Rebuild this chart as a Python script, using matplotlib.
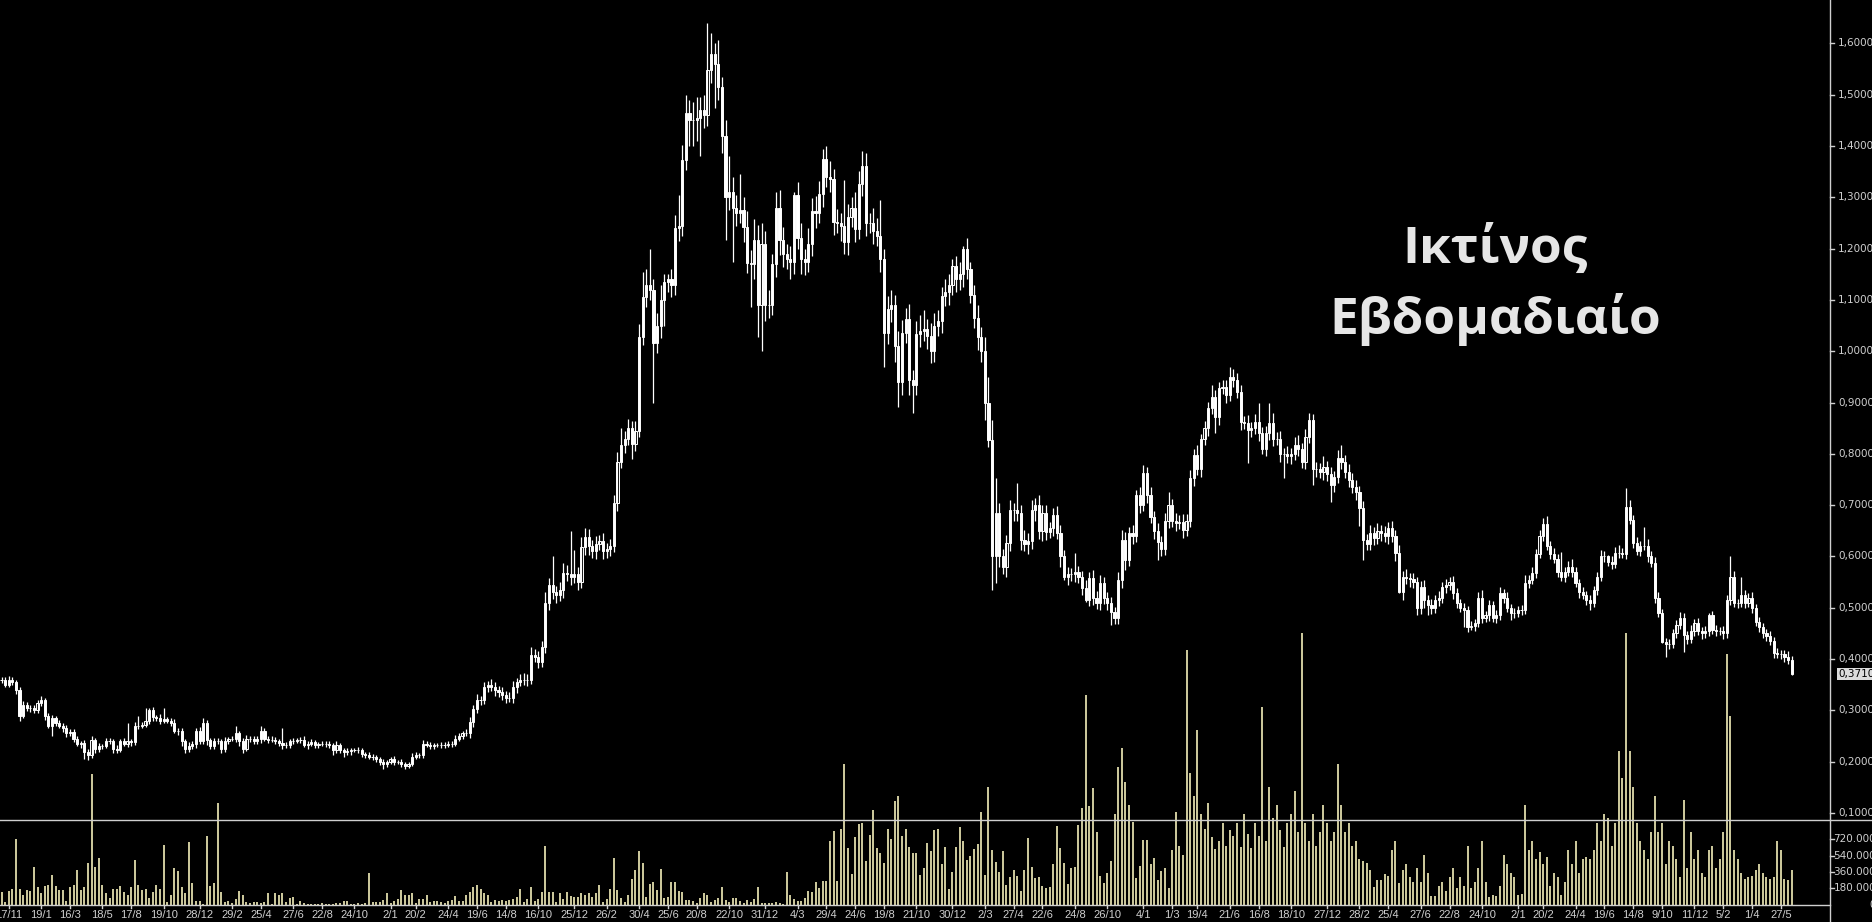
import numpy as np
import matplotlib
matplotlib.use('Agg')
import matplotlib.pyplot as plt
from matplotlib.lines import Line2D
from matplotlib.transforms import blended_transform_factory as blend

# weekly closes, Nov 2006 -> Jun 2016
closes = [
    0.36, 0.35, 0.36, 0.355, 0.34, 0.29, 0.31, 0.305, 0.305, 0.30,
    0.315, 0.32, 0.29, 0.27, 0.285, 0.275, 0.27, 0.265, 0.255, 0.258,
    0.245, 0.235, 0.237, 0.218, 0.213, 0.242, 0.225, 0.23, 0.23, 0.24,
    0.24, 0.225, 0.222, 0.24, 0.235, 0.24, 0.238, 0.27, 0.27, 0.272,
    0.28, 0.30, 0.287, 0.285, 0.28, 0.283, 0.28, 0.275, 0.26, 0.26,
    0.24, 0.225, 0.23, 0.235, 0.26, 0.24, 0.275, 0.242, 0.23, 0.24,
    0.24, 0.225, 0.24, 0.245, 0.245, 0.255, 0.24, 0.225, 0.245, 0.245,
    0.24, 0.245, 0.26, 0.245, 0.243, 0.243, 0.24, 0.237, 0.233, 0.232,
    0.24, 0.24, 0.243, 0.242, 0.233, 0.235, 0.238, 0.232, 0.235, 0.235,
    0.235, 0.232, 0.222, 0.232, 0.222, 0.218, 0.22, 0.222, 0.222, 0.222,
    0.215, 0.213, 0.21, 0.21, 0.205, 0.20, 0.195, 0.20, 0.205, 0.20,
    0.20, 0.195, 0.192, 0.195, 0.21, 0.213, 0.213, 0.235, 0.232, 0.23,
    0.232, 0.232, 0.233, 0.232, 0.235, 0.235, 0.245, 0.25, 0.255, 0.255,
    0.277, 0.303, 0.32, 0.32, 0.345, 0.35, 0.345, 0.34, 0.335, 0.33,
    0.325, 0.325, 0.345, 0.355, 0.36, 0.36, 0.36, 0.408, 0.405, 0.395,
    0.424, 0.51, 0.544, 0.53, 0.525, 0.535, 0.568, 0.565, 0.56, 0.565,
    0.55, 0.618, 0.638, 0.62, 0.61, 0.625, 0.63, 0.61, 0.615, 0.62,
    0.704, 0.784, 0.817, 0.83, 0.85, 0.82, 0.845, 1.028, 1.106, 1.13,
    1.12, 1.016, 1.05, 1.10, 1.135, 1.14, 1.13, 1.24, 1.245, 1.373,
    1.464, 1.45, 1.45, 1.455, 1.47, 1.46, 1.548, 1.58, 1.56, 1.515,
    1.42, 1.30, 1.31, 1.28, 1.27, 1.275, 1.243, 1.172, 1.17, 1.217,
    1.09, 1.21, 1.09, 1.09, 1.17, 1.28, 1.217, 1.19, 1.18, 1.175,
    1.305, 1.22, 1.18, 1.174, 1.21, 1.273, 1.27, 1.307, 1.375, 1.34,
    1.335, 1.252, 1.25, 1.245, 1.213, 1.262, 1.28, 1.238, 1.327, 1.361,
    1.25, 1.25, 1.235, 1.225, 1.18, 1.035, 1.083, 1.09, 1.01, 0.94,
    1.036, 1.063, 0.944, 0.935, 1.034, 1.04, 1.043, 1.03, 1.0, 1.05,
    1.06, 1.108, 1.115, 1.13, 1.166, 1.14, 1.15, 1.2, 1.16, 1.11,
    1.065, 1.028, 1.0, 0.90, 0.827, 0.60, 0.685, 0.60, 0.58, 0.626,
    0.69, 0.69, 0.685, 0.632, 0.625, 0.63, 0.69, 0.70, 0.65, 0.685,
    0.648, 0.655, 0.68, 0.646, 0.60, 0.56, 0.565, 0.565, 0.57, 0.56,
    0.539, 0.515, 0.558, 0.52, 0.51, 0.548, 0.52, 0.51, 0.492, 0.48,
    0.554, 0.632, 0.593, 0.646, 0.64, 0.72, 0.70, 0.763, 0.72, 0.677,
    0.65, 0.628, 0.615, 0.67, 0.70, 0.67, 0.665, 0.668, 0.652, 0.67,
    0.753, 0.798, 0.77, 0.83, 0.85, 0.89, 0.91, 0.872, 0.928, 0.93,
    0.915, 0.95, 0.945, 0.92, 0.862, 0.86, 0.847, 0.85, 0.862, 0.84,
    0.81, 0.84, 0.86, 0.83, 0.83, 0.80, 0.80, 0.795, 0.80, 0.817,
    0.81, 0.785, 0.833, 0.866, 0.77, 0.77, 0.765, 0.775, 0.76, 0.74,
    0.755, 0.792, 0.785, 0.765, 0.75, 0.735, 0.725, 0.694, 0.632, 0.625,
    0.646, 0.637, 0.65, 0.645, 0.64, 0.655, 0.64, 0.607, 0.531, 0.56,
    0.558, 0.556, 0.55, 0.50, 0.54, 0.515, 0.505, 0.50, 0.515, 0.52,
    0.54, 0.545, 0.55, 0.529, 0.51, 0.50, 0.495, 0.463, 0.465, 0.47,
    0.519, 0.48, 0.485, 0.505, 0.48, 0.485, 0.529, 0.52, 0.50, 0.49,
    0.49, 0.495, 0.495, 0.548, 0.555, 0.568, 0.605, 0.64, 0.663, 0.62,
    0.605, 0.595, 0.57, 0.56, 0.57, 0.58, 0.57, 0.548, 0.53, 0.525,
    0.515, 0.51, 0.535, 0.56, 0.60, 0.60, 0.59, 0.585, 0.607, 0.607,
    0.605, 0.697, 0.671, 0.626, 0.61, 0.62, 0.62, 0.60, 0.587, 0.52,
    0.49, 0.433, 0.43, 0.43, 0.451, 0.466, 0.48, 0.447, 0.44, 0.455,
    0.47, 0.455, 0.45, 0.455, 0.486, 0.457, 0.455, 0.455, 0.45, 0.515,
    0.56, 0.51, 0.51, 0.525, 0.51, 0.52, 0.50, 0.472, 0.462, 0.45,
    0.445, 0.435, 0.412, 0.41, 0.41, 0.405, 0.398, 0.371,
]

# upper / lower shadow length per week, in thousandths
wick_up = [
    5, 6, 8, 5, 4, 5, 8, 6, 5, 6,
    6, 8, 5, 4, 6, 5, 6, 5, 7, 6,
    5, 6, 4, 5, 6, 8, 5, 6, 5, 7,
    6, 5, 8, 4, 6, 35, 5, 8, 20, 6,
    25, 5, 6, 5, 8, 22, 5, 6, 8, 5,
    6, 4, 8, 5, 6, 8, 10, 6, 5, 7,
    6, 5, 8, 4, 6, 15, 5, 6, 8, 5,
    6, 5, 10, 6, 5, 7, 6, 5, 28, 6,
    5, 6, 4, 6, 8, 5, 6, 5, 4, 6,
    5, 6, 5, 8, 4, 5, 6, 5, 4, 6,
    5, 4, 6, 5, 4, 5, 6, 4, 5, 6,
    4, 5, 4, 5, 6, 5, 4, 8, 5, 6,
    5, 4, 6, 5, 6, 5, 8, 6, 5, 8,
    10, 8, 12, 8, 10, 8, 12, 10, 8, 10,
    8, 10, 12, 8, 10, 12, 10, 15, 12, 10,
    12, 20, 15, 56, 12, 15, 20, 15, 85, 48,
    15, 20, 18, 15, 12, 15, 12, 15, 12, 15,
    15, 20, 33, 15, 18, 15, 20, 25, 49, 30,
    70, 20, 25, 30, 15, 10, 20, 25, 60, 30,
    36, 26, 35, 40, 25, 30, 92, 40, 20, 46,
    20, 30, 70, 30, 25, 70, 25, 30, 25, 40,
    30, 40, 25, 30, 20, 30, 35, 25, 20, 25,
    5, 25, 30, 20, 30, 25, 30, 25, 20, 25,
    30, 20, 25, 20, 89, 25, 20, 30, 25, 29,
    25, 20, 30, 25, 70, 20, 25, 30, 20, 30,
    25, 22, 30, 20, 25, 30, 37, 20, 25, 25,
    20, 17, 25, 20, 14, 20, 25, 5, 20, 15,
    20, 25, 20, 28, 50, 40, 68, 20, 15, 15,
    20, 15, 53, 15, 20, 15, 20, 15, 20, 15,
    15, 12, 15, 18, 15, 12, 15, 12, 37, 12,
    12, 15, 12, 15, 12, 15, 12, 10, 12, 10,
    15, 20, 15, 12, 15, 10, 15, 15, 12, 15,
    12, 15, 12, 15, 25, 12, 15, 12, 15, 12,
    15, 12, 20, 9, 15, 12, 24, 15, 12, 15,
    15, 20, 15, 12, 15, 12, 15, 12, 15, 38,
    12, 15, 40, 20, 12, 15, 12, 15, 12, 15,
    20, 12, 15, 14, 12, 15, 12, 20, 12, 15,
    12, 15, 25, 12, 15, 12, 15, 12, 15, 12,
    15, 12, 15, 12, 15, 12, 15, 12, 15, 12,
    15, 10, 12, 10, 12, 15, 10, 12, 10, 12,
    10, 12, 10, 12, 10, 8, 10, 8, 10, 8,
    12, 15, 8, 10, 8, 10, 12, 8, 10, 8,
    10, 8, 10, 16, 8, 12, 10, 12, 12, 15,
    10, 12, 10, 39, 10, 12, 15, 10, 8, 10,
    8, 10, 8, 10, 12, 10, 3, 10, 12, 15,
    10, 36, 13, 10, 12, 10, 37, 15, 10, 12,
    10, 8, 8, 10, 8, 10, 12, 10, 8, 12,
    8, 10, 8, 10, 4, 8, 10, 8, 10, 10,
    40, 12, 8, 35, 10, 8, 10, 8, 10, 8,
    8, 10, 8, 10, 8, 8, 10, 8,
]
wick_dn = [
    6, 5, 4, 6, 8, 10, 5, 6, 8, 5,
    5, 6, 8, 5, 20, 6, 5, 8, 6, 5,
    6, 5, 8, 13, 10, 5, 8, 6, 5, 4,
    5, 8, 6, 4, 5, 6, 8, 5, 6, 5,
    5, 6, 8, 5, 6, 4, 5, 6, 5, 8,
    10, 8, 6, 5, 8, 6, 5, 10, 6, 5,
    5, 8, 6, 5, 4, 6, 10, 8, 5, 6,
    5, 6, 8, 5, 6, 4, 5, 6, 8, 5,
    6, 5, 4, 6, 5, 8, 5, 6, 5, 4,
    6, 5, 8, 5, 6, 8, 5, 6, 4, 5,
    6, 5, 4, 6, 5, 6, 10, 5, 4, 6,
    5, 6, 6, 5, 4, 5, 6, 5, 4, 5,
    5, 4, 6, 5, 4, 6, 5, 4, 6, 5,
    8, 10, 8, 10, 8, 10, 8, 12, 8, 10,
    10, 8, 10, 12, 8, 10, 12, 8, 10, 12,
    10, 12, 15, 12, 15, 12, 15, 12, 15, 12,
    15, 12, 15, 18, 12, 15, 12, 15, 12, 15,
    12, 15, 12, 15, 12, 30, 15, 12, 15, 20,
    20, 116, 20, 25, 50, 20, 25, 20, 25, 20,
    20, 50, 50, 40, 75, 25, 20, 25, 85, 25,
    33, 83, 25, 106, 25, 20, 30, 20, 84, 30,
    62, 90, 30, 25, 20, 25, 30, 25, 20, 35,
    25, 20, 30, 25, 20, 25, 30, 20, 25, 20,
    25, 25, 20, 30, 23, 25, 20, 25, 20, 25,
    25, 20, 25, 20, 25, 65, 20, 25, 30, 49,
    25, 20, 30, 55, 20, 25, 20, 25, 23, 20,
    20, 25, 20, 25, 20, 25, 20, 25, 20, 16,
    20, 25, 20, 34, 14, 65, 52, 20, 15, 20,
    15, 20, 15, 20, 15, 20, 15, 20, 15, 20,
    15, 12, 15, 12, 20, 6, 15, 12, 15, 12,
    15, 4, 12, 15, 12, 15, 12, 15, 26, 12,
    12, 15, 20, 12, 15, 12, 15, 12, 15, 12,
    15, 35, 15, 12, 15, 12, 15, 12, 15, 12,
    12, 15, 12, 15, 12, 15, 12, 32, 15, 12,
    15, 12, 15, 12, 15, 12, 65, 15, 12, 15,
    10, 15, 12, 15, 12, 15, 47, 12, 15, 12,
    15, 12, 15, 12, 30, 15, 12, 15, 12, 34,
    15, 12, 15, 12, 15, 12, 15, 34, 39, 12,
    12, 15, 12, 15, 12, 15, 12, 15, 2, 15,
    12, 15, 12, 15, 12, 15, 19, 12, 10, 12,
    10, 12, 10, 12, 10, 8, 32, 10, 6, 10,
    8, 10, 8, 10, 8, 10, 8, 10, 8, 14,
    10, 8, 10, 8, 10, 8, 10, 8, 10, 8,
    10, 8, 10, 8, 10, 8, 10, 8, 10, 8,
    10, 14, 8, 10, 8, 10, 8, 10, 8, 10,
    8, 10, 8, 10, 8, 10, 8, 10, 8, 10,
    8, 2, 26, 10, 8, 10, 8, 33, 10, 8,
    10, 8, 10, 8, 10, 8, 10, 8, 10, 8,
    10, 8, 10, 8, 10, 8, 10, 8, 10, 8,
    10, 8, 10, 8, 10, 11, 8, 2,
]

# weekly volume, thousands of shares
volumes = [
    141, 31, 150, 170, 725, 170, 110, 160, 150, 415,
    195, 130, 205, 220, 325, 200, 160, 160, 40, 195,
    220, 380, 160, 195, 460, 1440, 415, 515, 215, 130,
    70, 170, 170, 205, 140, 110, 195, 490, 215, 160,
    170, 70, 140, 215, 170, 660, 30, 110, 405, 370,
    195, 130, 690, 235, 35, 35, 10, 755, 200, 235,
    1120, 140, 30, 35, 15, 65, 150, 110, 30, 15,
    30, 30, 15, 30, 130, 10, 130, 110, 130, 30,
    75, 80, 10, 35, 15, 10, 10, 10, 10, 15,
    10, 10, 10, 15, 15, 40, 40, 10, 10, 15,
    10, 15, 350, 30, 30, 30, 50, 130, 15, 40,
    60, 160, 110, 110, 130, 15, 60, 60, 110, 30,
    35, 35, 30, 15, 40, 50, 90, 40, 40, 110,
    140, 195, 215, 175, 130, 110, 30, 50, 35, 50,
    35, 50, 60, 80, 170, 30, 60, 195, 35, 60,
    140, 650, 140, 140, 30, 130, 60, 140, 90, 80,
    80, 130, 110, 130, 80, 130,
    215, 30, 60, 170, 515, 160, 70, 30, 105, 280,
    380, 590, 455, 85, 225, 250, 160, 390, 75, 85,
    250, 250, 150, 135, 50, 50, 40, 20, 70, 125,
    105, 25, 50, 75, 195, 50, 25, 70, 70, 40,
    15, 50, 25, 60, 195, 15, 15, 15, 15, 25,
    15, 5, 360, 105, 60, 40, 40, 75, 150, 135,
    250, 180, 260, 260, 700, 810, 260, 830, 1550, 620,
    335, 745, 890, 900, 480, 770, 1040, 620, 570, 455,
    830, 720, 1140, 1200, 755, 830, 635, 570, 570, 325,
    400, 680, 595, 820, 830, 450, 635, 170, 360, 635,
    855, 700, 490, 535, 610, 670, 1020, 325, 1300, 600,
    470, 360, 590, 210, 300, 380, 315, 150, 380, 735,
    415, 290, 305, 200, 180, 190, 445, 865, 620, 455,
    225, 400, 415, 880, 1065, 2310, 1090, 1290, 800, 315,
    240, 350, 480, 1000, 1520, 1730, 1350, 1100, 910, 290,
    425, 710, 710, 450, 515, 270, 370, 400, 185, 600,
    1020, 645, 550, 2810, 1450, 1200, 1930, 1000, 830, 1120,
    745, 615,
    700, 900, 650, 820, 760, 900, 640, 1000, 780, 620, 900, 760,
    2180, 700, 1300, 950, 1100, 820, 640, 900, 1000, 1250,
    800, 3000, 900, 700, 1000, 650, 800, 1100, 900, 700,
    800, 1550, 1100, 800, 900, 650, 700, 500, 480, 460,
    380, 190, 270, 270, 335, 310, 600, 700, 235, 380,
    450, 300, 250, 400, 250, 550, 350, 90, 90, 200,
    250, 150, 300, 400, 180, 300, 200, 650, 180, 250,
    400, 700, 250, 80, 100, 90, 200, 550, 450, 350,
    300, 100, 120, 1100, 600, 700, 500, 580, 450, 520,
    200, 350, 300, 100, 250, 600, 450, 700, 350, 500,
    520, 500, 600, 900, 700, 1000, 950, 650, 900, 1700,
    1400, 3000, 1700, 1300, 900, 700, 600, 500, 800, 1200,
    800, 900, 450, 700, 650, 500, 300, 1150, 400, 800,
    500, 600, 350, 300, 600, 650, 400, 500, 800, 2770,
    2080, 600, 500, 350, 280, 300, 310, 380, 450, 350,
    300, 280, 300, 700, 600, 280, 270, 380,
]

tick_labels = ['17/11', '19/1', '16/3', '18/5', '17/8', '19/10', '28/12', '29/2',
               '25/4', '27/6', '22/8', '24/10', '2/1', '20/2', '24/4', '19/6',
               '14/8', '16/10', '25/12', '26/2', '30/4', '25/6', '20/8', '22/10',
               '31/12', '4/3', '29/4', '24/6', '19/8', '21/10', '30/12', '2/3',
               '27/4', '22/6', '24/8', '26/10', '4/1', '1/3', '19/4', '21/6',
               '16/8', '18/10', '27/12', '28/2', '25/4', '27/6', '22/8', '24/10',
               '2/1', '20/2', '24/4', '19/6', '14/8', '9/10', '11/12', '5/2',
               '1/4', '27/5']
tick_bars = [2, 11, 19, 28, 36, 45, 55, 64, 72, 81, 89, 98, 108, 115, 124, 132,
             140, 149, 159, 168, 177, 185, 193, 202, 212, 221, 229, 237, 245, 254,
             264, 273, 281, 289, 298, 307, 317, 325, 332, 341, 349, 358, 368, 377,
             385, 394, 402, 411, 421, 428, 437, 445, 453, 461, 470, 478, 486, 494]

price_ticks = [0.1, 0.2, 0.3, 0.4, 0.5, 0.6, 0.7, 0.8, 0.9, 1.0, 1.1, 1.2, 1.3, 1.4, 1.5, 1.6]
vol_ticks = [0, 180000, 360000, 540000, 720000]
last_price = 0.371
title_lines = ['Ικτίνος', 'Εβδομαδιαίο']

# ---- layout (pixels of the 1872x922 picture) ----
W, H = 1872, 922
axis_x = 1830        # right price scale line
sep_y = 820          # price / volume separator
vol_y0 = 904.5       # volume zero line
pitch = 3.602        # px per week
first_x = 1.5
p_ref, p_ref_y, px_per_unit = 0.1, 813.0, 513.0
px_per_vol = 16.3 / 180000

fg = '#cfcfcf'
vol_col = '#f3efb9'

fig = plt.figure(figsize=(W / 100, H / 100), dpi=100, facecolor='black')

def fy(py):
    return 1 - py / H

xlim = (-first_x / pitch, (axis_x - first_x) / pitch)

vax = fig.add_axes([0, fy(vol_y0), axis_x / W, (vol_y0 - sep_y) / H])
vax.set_xlim(*xlim)
vax.set_ylim(0, (vol_y0 - sep_y) / px_per_vol)
vax.axis('off')

ax = fig.add_axes([0, fy(sep_y), axis_x / W, sep_y / H])
ax.patch.set_alpha(0)
ax.set_xlim(*xlim)
ax.set_ylim(p_ref - (sep_y - p_ref_y) / px_per_unit, p_ref + p_ref_y / px_per_unit)
ax.axis('off')

c = np.array(closes)
o = np.r_[c[0], c[:-1]]
hi = np.maximum(o, c) + np.array(wick_up) / 1000.0
lo = np.minimum(o, c) - np.array(wick_dn) / 1000.0
idx = np.arange(len(c))
vol = np.array(volumes) * 1000.0

vax.vlines(idx, 0, vol, colors=vol_col, linewidth=1.2, clip_on=False)

# candles: hollow when the week closed up, filled when it closed down
ax.vlines(idx, lo, hi, colors='white', linewidth=0.9)
up = c >= o
ax.bar(idx[up], (c - o)[up], bottom=o[up], width=0.6, facecolor='black',
       edgecolor='white', linewidth=0.7)
ax.bar(idx[~up], (c - o)[~up], bottom=o[~up], width=0.6, facecolor='white',
       edgecolor='white', linewidth=0.7)

# frame lines
fig.add_artist(Line2D([0, 1], [fy(sep_y)] * 2, color=fg, lw=1))
fig.add_artist(Line2D([0, axis_x / W], [fy(vol_y0)] * 2, color=fg, lw=1))
fig.add_artist(Line2D([axis_x / W] * 2, [0, 1], color=fg, lw=1))

# price scale
tp = blend(fig.transFigure, ax.transData)
for p in price_ticks:
    fig.add_artist(Line2D([axis_x / W, (axis_x + 4) / W], [p, p], color=fg, lw=1, transform=tp))
    fig.text(1838 / W, p, ('%.4f' % p).replace('.', ','), transform=tp, color=fg,
             fontsize=7.5, family='DejaVu Sans', ha='left', va='center')
fig.text(1838 / W, last_price, ('%.4f' % last_price).replace('.', ','), transform=tp,
         color='black', fontsize=7.5, family='DejaVu Sans', ha='left', va='center',
         bbox=dict(facecolor='#dcdcdc', edgecolor='none', pad=1.0))

# volume scale
tv = blend(fig.transFigure, vax.transData)
for v in vol_ticks:
    if v > 0:
        fig.add_artist(Line2D([axis_x / W, (axis_x + 4) / W], [v, v], color=fg, lw=1, transform=tv))
    lab = '{:,}'.format(v).replace(',', '.')
    fig.text(1876 / W, v, lab, transform=tv, color=fg, fontsize=7.5,
             family='DejaVu Sans', ha='right', va='center')

# date axis
td = blend(vax.transData, fig.transFigure)
for b, lab in zip(tick_bars, tick_labels):
    fig.add_artist(Line2D([b, b], [fy(vol_y0), fy(vol_y0 + 3.5)], color=fg, lw=1, transform=td))
    fig.text(b, fy(915), lab, transform=td, color=fg, fontsize=8,
             family='Liberation Sans', ha='center', va='center')

# title
fig.text(1495 / W, fy(263), title_lines[0], color='#e6e6e6', fontsize=37,
         family='Open Sans', fontweight='bold', ha='center', va='baseline')
fig.text(1495 / W, fy(334), title_lines[1], color='#e6e6e6', fontsize=37,
         family='Open Sans', fontweight='bold', ha='center', va='baseline')

fig.savefig('out.png', dpi=100, facecolor='black')
